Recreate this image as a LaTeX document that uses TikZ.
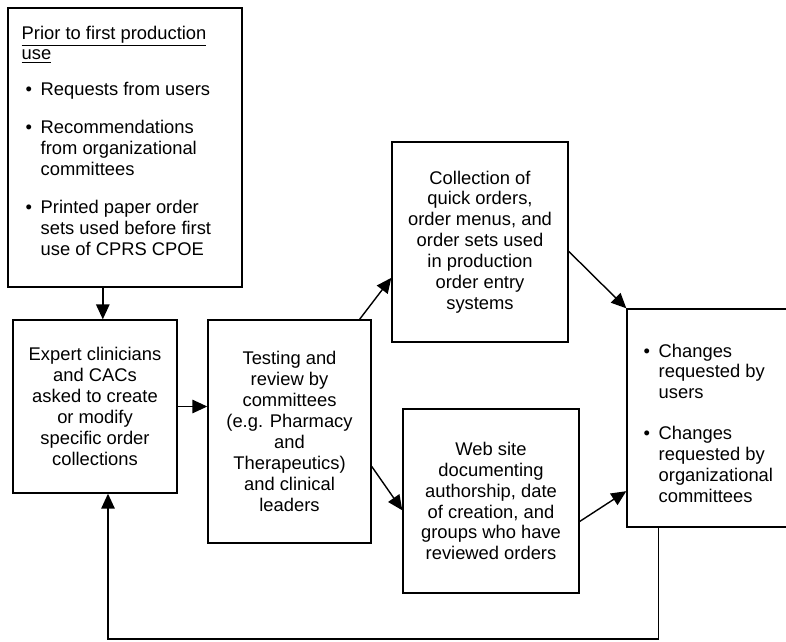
\documentclass[tikz,border=0pt]{standalone}
\usepackage{fontspec}
\setmainfont{Liberation Sans}
\usetikzlibrary{arrows.meta}
\newcommand{\blt}{\makebox[0.3cm][l]{\textbullet}}

\begin{document}
\begin{tikzpicture}[x=0.02cm,y=-0.02cm,line width=0.8pt,
  font=\fontsize{10.45pt}{11.9pt}\selectfont,
  box/.style={draw=black,fill=white,shape=rectangle,align=center,inner sep=0pt},
  flow/.style={-{Triangle[length=0.3cm,width=0.27cm]}}]
 \useasboundingbox (0,0) rectangle (786,641);
 \node (box 1) at (125,147.5) [box,minimum width=4.68cm,minimum height=5.58cm] {};
 \node (txt 1) at (21,25) [anchor=north west,inner sep=0pt,align=left] {\underline{Prior to first production}\\ \underline{use}\\[0.3cm]
  \hspace*{0.08cm}\blt Requests from users\\[0.34cm]
  \hspace*{0.08cm}\blt Recommendations\\ \hspace*{0.38cm}from organizational\\ \hspace*{0.38cm}committees\\[0.34cm]
  \hspace*{0.08cm}\blt Printed paper order\\ \hspace*{0.38cm}sets used before first\\ \hspace*{0.38cm}use of CPRS CPOE};
 \node (box 2) at (95,406.5) [box,minimum width=3.28cm,minimum height=3.46cm] {Expert clinicians\\and CACs\\asked to create\\or modify\\specific order\\collections};
 \node (box 3) at (289.5,431.5) [box,minimum width=3.26cm,minimum height=4.46cm] {Testing and\\review by\\committees\\(e.g. Pharmacy\\and\\Therapeutics)\\and clinical\\leaders};
 \node (box 4) at (480,242) [box,minimum width=3.52cm,minimum height=4cm] {Collection of\\quick orders,\\order menus, and\\order sets used\\in production\\order entry\\systems};
 \node (box 5) at (727,418) [box,minimum width=4cm,minimum height=4.36cm] {};
 \node (txt 5) at (643,343) [anchor=north west,inner sep=0pt,align=left] {\blt Changes\\ \hspace*{0.3cm}requested by\\ \hspace*{0.3cm}users\\[0.4cm]
  \blt Changes\\ \hspace*{0.3cm}requested by\\ \hspace*{0.3cm}organizational\\ \hspace*{0.3cm}committees};
 \node (box 6) at (491,501) [box,minimum width=3.52cm,minimum height=3.68cm] {Web site\\documenting\\authorship, date\\of creation, and\\groups who have\\reviewed orders};
 \coordinate (loop) at (108,639);
 \draw[flow] (box 1.261) -- (box 1.261 |- box 2.north);
 \draw[flow] (box 2.east) -- (box 2.east -| box 3.west);
 \draw[flow] (box 3.58) -- (box 4.202);
 \draw[flow] (box 4.354) -- (box 5.north west);
 \draw[flow] (box 3.337) -- (box 6.186);
 \draw[flow] (box 6.347) -- (box 5.216);
 \draw[flow] (box 5.238) |- (loop) -- (loop |- box 2.south);
\end{tikzpicture}
\end{document}
